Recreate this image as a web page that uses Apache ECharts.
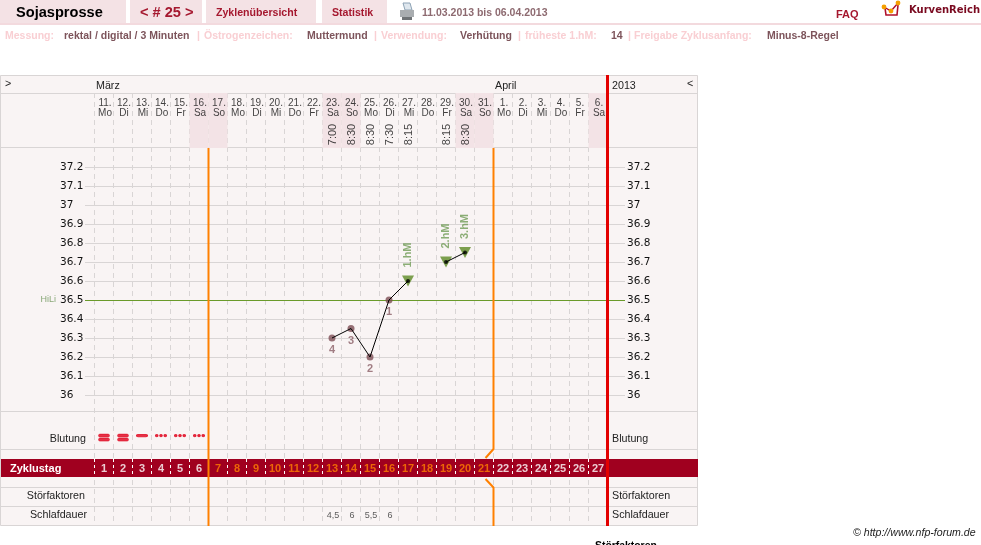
<!DOCTYPE html>
<html>
<head>
<meta charset="utf-8">
<title>Zykluskurve</title>
<style>html,body{margin:0;padding:0;background:#fff}#chart{width:981px;height:545px}</style>
<script src="https://cdn.jsdelivr.net/npm/echarts@6/dist/echarts.min.js"></script>
</head>
<body>
<div id="chart"></div>
<script>
// Calendar columns of the cycle, one entry per cycle day
const dayDates = ['11.','12.','13.','14.','15.','16.','17.','18.','19.','20.','21.','22.','23.','24.','25.','26.','27.','28.','29.','30.','31.','1.','2.','3.','4.','5.','6.'];
const weekdays = ['Mo','Di','Mi','Do','Fr','Sa','So','Mo','Di','Mi','Do','Fr','Sa','So','Mo','Di','Mi','Do','Fr','Sa','So','Mo','Di','Mi','Do','Fr','Sa'];
const cycleDays = [1,2,3,4,5,6,7,8,9,10,11,12,13,14,15,16,17,18,19,20,21,22,23,24,25,26,27];
const measureTimes = ['','','','','','','','','','','','','7:00','8:30','8:30','7:30','8:15','','8:15','8:30','','','','','','',''];

// Waking temperature per cycle day, null where nothing was measured
const temperatures = [null,null,null,null,null,null,null,null,null,null,null,null,36.3,36.35,36.2,36.5,36.6,null,36.7,36.75,null,null,null,null,null,null,null];
const lowRankLabels = ['','','','','','','','','','','','','4','3','2','1','','','','','','','','','','',''];
const highLabels = ['','','','','','','','','','','','','','','','','1.hM','','2.hM','3.hM','','','','','','',''];
const temperatureTicks = [36, 37.2, 0.1];
const coverLine = 36.5;

// Bleeding strength: 3 heavy, 2 normal, 1 spotting
const bleeding = [3,3,2,1,1,1,0,0,0,0,0,0,0,0,0,0,0,0,0,0,0,0,0,0,0,0,0];
// Sleep duration in hours, written with a decimal comma
const sleepHours = ['','','','','','','','','','','','','4,5','6','5,5','6','','','','','','','','','','',''];
// Fertile window: opens after cycle day 6, closes after cycle day 21
const fertileOpenDay = 6;
const fertileCloseDay = 21;

const SANS = '"Liberation Sans", Arial, sans-serif';
const GRID_LINE = '#d9d5d5';
const DARK_RED = '#a0001f';
const ORANGE = '#ff8000';
const PANEL = '#f9f4f4';
const WEEKEND = '#f3e3e6';
const TAB = '#f4e2e5';

const dayCenter = i => i + 0.5;
const isWeekend = i => weekdays[i] === 'Sa' || weekdays[i] === 'So';
const inFertileWindow = d => d > fertileOpenDay && d <= fertileCloseDay;

// Bleeding glyphs
const BAR = 'M1.5 0H9.5A1.5 1.5 0 0 1 9.5 3H1.5A1.5 1.5 0 0 1 1.5 0Z';
const DOUBLE_BAR = BAR + 'M1.5 4H9.5A1.5 1.5 0 0 1 9.5 7H1.5A1.5 1.5 0 0 1 1.5 4Z';
const DOTS = 'M0 1.5A1.25 1.25 0 1 1 2.5 1.5A1.25 1.25 0 1 1 0 1.5Z' +
             'M4.25 1.5A1.25 1.25 0 1 1 6.75 1.5A1.25 1.25 0 1 1 4.25 1.5Z' +
             'M8.5 1.5A1.25 1.25 0 1 1 11 1.5A1.25 1.25 0 1 1 8.5 1.5Z';

// Grids sharing one day scale; the temperature grid reaches past both ends
const dayAxis = (gridIndex, extra) => Object.assign({
  type: 'value', gridIndex, min: 0, max: 27, interval: 1,
  axisLine: {show: false}, axisTick: {show: false}, axisLabel: {show: false}, splitLine: {show: false}
}, extra);
const unitAxis = (gridIndex, extra) => Object.assign({
  type: 'value', gridIndex, min: 0, max: 1,
  axisLine: {show: false}, axisTick: {show: false}, axisLabel: {show: false}, splitLine: {show: false}
}, extra);
const temperatureAxis = (position, margin, split) => ({
  type: 'value', gridIndex: 2, position,
  min: temperatureTicks[0], max: temperatureTicks[1], interval: temperatureTicks[2],
  axisLine: {show: false}, axisTick: {show: false},
  axisLabel: {align: 'left', margin, color: '#111', fontFamily: '"DejaVu Sans", sans-serif', fontSize: 10.5},
  splitLine: {show: split, lineStyle: {color: GRID_LINE, width: 1}}
});

const grids = [
  {left: 94.5, top: 93, width: 513, height: 433},   // full-height column rules and phase lines
  {left: 94.5, top: 93, width: 513, height: 55},    // date header
  {left: 85, top: 167, width: 540, height: 228},    // temperature curve
  {left: 94.5, top: 411, width: 513, height: 38},   // bleeding
  {left: 94.5, top: 459, width: 513, height: 18},   // cycle day band
  {left: 94.5, top: 506, width: 513, height: 20}    // sleep
];

const xAxes = [
  dayAxis(0, {splitLine: {show: true, lineStyle: {color: '#d9d5d5', type: [5, 4], width: 1}}}),
  dayAxis(1),
  dayAxis(2, {min: -0.5, max: 27.92, interval: undefined}),
  dayAxis(3),
  dayAxis(4, {z: 3, splitLine: {show: true, lineStyle: {color: '#ffffff', type: [3, 3], width: 1}}}),
  dayAxis(5)
];

const yAxes = [
  {type: 'value', gridIndex: 0, min: 0, max: 433, inverse: true,
   axisLine: {show: false}, axisTick: {show: false}, axisLabel: {show: false}, splitLine: {show: false}},
  unitAxis(1),
  temperatureAxis('left', 25, true),
  temperatureAxis('right', 2, false),
  unitAxis(3),
  unitAxis(4),
  unitAxis(5)
];

// Text-only scatter on one of the row grids
function textRow(xIndex, yIndex, y, texts, labelFor) {
  return {
    type: 'scatter', xAxisIndex: xIndex, yAxisIndex: yIndex, symbolSize: 1, z: 6, silent: true,
    itemStyle: {color: 'transparent'},
    data: texts.map((t, i) => t === '' ? null : {value: [dayCenter(i), y], label: Object.assign({show: true, position: 'inside', formatter: t}, labelFor(t, i))}).filter(Boolean)
  };
}

const points = temperatures.map((t, i) => t === null ? [dayCenter(i), null] : [dayCenter(i), t]);
const lowPoints = temperatures.map((t, i) => ({t, i})).filter(p => p.t !== null && lowRankLabels[p.i] !== '');
const highPoints = temperatures.map((t, i) => ({t, i})).filter(p => p.t !== null && highLabels[p.i] !== '');

const openEdge = fertileOpenDay;
const closeEdge = fertileCloseDay;

const series = [
  // Weekend columns in the date header
  {type: 'bar', xAxisIndex: 1, yAxisIndex: 1, barWidth: 19, z: 1, silent: true, itemStyle: {color: WEEKEND},
   data: weekdays.map((w, i) => isWeekend(i) ? [dayCenter(i), 1] : null).filter(Boolean)},

  textRow(1, 1, 0.72, dayDates, (t, i) => ({
    formatter: t + '\n' + weekdays[i], fontFamily: SANS, fontSize: 10, lineHeight: 10, color: '#111', align: 'center', verticalAlign: 'middle', offset: [1, 0]
  })),
  textRow(1, 1, 0.245, measureTimes, () => ({
    rotate: 90, fontFamily: SANS, fontSize: 11, color: '#111', align: 'center', verticalAlign: 'middle', offset: [0, 1]
  })),

  // Start of infertile phases and cycle end
  {type: 'line', xAxisIndex: 0, yAxisIndex: 0, symbol: 'none', z: 4, silent: true, clip: false,
   lineStyle: {color: ORANGE, width: 2}, data: [[openEdge, 55], [openEdge, 433]]},
  {type: 'line', xAxisIndex: 0, yAxisIndex: 0, symbol: 'none', z: 4, silent: true, clip: false,
   lineStyle: {color: ORANGE, width: 2}, data: [[closeEdge, 55], [closeEdge, 356], [closeEdge - 0.42, 365]]},
  {type: 'line', xAxisIndex: 0, yAxisIndex: 0, symbol: 'none', z: 4, silent: true, clip: false,
   lineStyle: {color: ORANGE, width: 2}, data: [[closeEdge - 0.42, 386], [closeEdge, 394.5], [closeEdge, 433]]},
  {type: 'line', xAxisIndex: 0, yAxisIndex: 0, symbol: 'none', z: 5, silent: true, clip: false,
   lineStyle: {color: '#e30000', width: 3}, data: [[cycleDays.length, -18], [cycleDays.length, 433]]},

  // Cover line across the chart
  {type: 'line', xAxisIndex: 2, yAxisIndex: 2, data: [], symbol: 'none', silent: true,
   markLine: {silent: true, symbol: 'none', z: 2, animation: false,
     lineStyle: {color: '#6a9a2a', width: 1, type: 'solid'},
     label: {show: true, position: 'start', distance: 29, formatter: 'HiLi', color: '#8aa878', fontFamily: SANS, fontSize: 9},
     data: [{yAxis: coverLine}]}},

  // Higher readings: green triangles carrying the count
  {type: 'scatter', xAxisIndex: 2, yAxisIndex: 2, z: 6, symbol: 'triangle', symbolRotate: 180, symbolSize: [12, 11], silent: true,
   itemStyle: {color: '#5c8a24'},
   data: highPoints.map(p => ({value: [dayCenter(p.i), p.t],
     label: {show: true, formatter: highLabels[p.i], position: 'inside', rotate: 90, offset: [26, 0], align: 'center', verticalAlign: 'middle',
       color: '#6f9b55', fontFamily: SANS, fontWeight: 'bold', fontSize: 11}}))},

  // Lower readings: brown discs with their rank underneath
  {type: 'scatter', xAxisIndex: 2, yAxisIndex: 2, z: 7, symbol: 'circle', symbolSize: 7, silent: true,
   itemStyle: {color: '#7d4d55'},
   data: lowPoints.map(p => ({value: [dayCenter(p.i), p.t],
     label: {show: true, formatter: lowRankLabels[p.i], position: 'bottom', distance: 3,
       color: '#8b5f67', fontFamily: SANS, fontWeight: 'bold', fontSize: 11}}))},

  // Temperature curve, broken where a day has no reading
  {type: 'line', xAxisIndex: 2, yAxisIndex: 2, z: 8, symbol: 'none', connectNulls: false, silent: true,
   lineStyle: {color: '#000', width: 1}, data: points},
  {type: 'scatter', xAxisIndex: 2, yAxisIndex: 2, z: 9, symbol: 'circle', symbolSize: 4, silent: true,
   itemStyle: {color: '#000'}, data: highPoints.map(p => [dayCenter(p.i), p.t])},

  // Bleeding marks
  {type: 'scatter', xAxisIndex: 3, yAxisIndex: 4, z: 6, silent: true,
   itemStyle: {color: '#e0001a', borderColor: '#e0001a', borderWidth: 0.6},
   data: bleeding.map((b, i) => b === 0 ? null : {
     value: [dayCenter(i), 0.3],
     symbol: 'path://' + (b === 3 ? DOUBLE_BAR : b === 2 ? BAR : DOTS),
     symbolSize: b === 3 ? [11, 7] : [11, 3],
     symbolOffset: b === 3 ? [0, 0] : [0, -2]
   }).filter(Boolean)},

  // Cycle day numbers on the band
  textRow(4, 5, 0.44, cycleDays.map(String), (t, i) => ({
    fontFamily: SANS, fontWeight: 'bold', fontSize: 11, color: inFertileWindow(cycleDays[i]) ? ORANGE : '#ffffff', align: 'center', verticalAlign: 'middle'
  })),

  // Sleep duration
  textRow(5, 6, 0.52, sleepHours, () => ({
    fontFamily: SANS, fontSize: 9, color: '#333', align: 'center', verticalAlign: 'middle', offset: [1, 0]
  }))
];

// Page furniture around the chart
const txt = (text, x, y, font, fill, align, z) => ({
  type: 'text', x, y: y + 1, z: z || 10, silent: true,
  style: {text, font, fill, textAlign: align || 'left', textVerticalAlign: 'middle'}
});
const rect = (x, y, w, h, fill, z) => ({type: 'rect', silent: true, z: z === undefined ? -10 : z, shape: {x, y, width: w, height: h}, style: {fill}});
const hline = (y, x1, x2) => ({type: 'line', silent: true, z: -1, shape: {x1, y1: y, x2, y2: y}, style: {stroke: GRID_LINE, lineWidth: 1}});
const poly = (pts, stroke, lineWidth) => ({type: 'polyline', silent: true, z: 10, shape: {points: pts}, style: {stroke, lineWidth, fill: 'none'}});
const dot = (cx, cy, r, fill) => ({type: 'circle', silent: true, z: 11, shape: {cx, cy, r}, style: {fill}});

const subFont = 'bold 10.5px ' + SANS;
const tickFont = '10.7px ' + SANS;
const PINK = '#f9cfd3';
const BROWN = '#7d545b';

const furniture = [
  // Tabs and top rule
  rect(0, 0, 126, 23, TAB), rect(130, 0, 72, 23, TAB), rect(206, 0, 110, 23, TAB), rect(322, 0, 65, 23, TAB),
  rect(0, 23, 981, 2, '#f3dade'),
  txt('Sojasprosse', 16, 12, 'bold 14.6px ' + SANS, '#000'),
  txt('< # 25 >', 140, 12, 'bold 14.6px ' + SANS, '#a5182f'),
  txt('Zyklenübersicht', 216, 12, 'bold 10.6px ' + SANS, '#a5182f'),
  txt('Statistik', 332, 12, 'bold 10.6px ' + SANS, '#a5182f'),
  txt('11.03.2013 bis 06.04.2013', 422, 12, subFont, '#8d6a70'),
  txt('FAQ', 836, 14, 'bold 11px ' + SANS, '#a5182f'),
  txt('KurvenReich', 909, 9, 'bold 10px "DejaVu Sans", sans-serif', '#7a0a20'),

  // Printer icon
  {type: 'polygon', silent: true, z: 10, shape: {points: [[403, 3], [410, 3], [412, 10], [405, 10]]}, style: {fill: '#dfe7ee', stroke: '#8ea3b5', lineWidth: 1}},
  rect(400, 10, 14, 7, '#a9adb0', 10),
  rect(402, 17, 10, 3, '#6f7376', 10),

  // Logo
  poly([[885, 8], [886, 15], [897, 15], [898, 5]], '#b0102a', 1.6),
  poly([[884, 7], [891, 11], [898, 3]], '#b0102a', 1.4),
  dot(884, 7, 2.4, '#f5a000'), dot(891, 11, 2.4, '#f5a000'), dot(898, 3, 2.4, '#f5a000'),

  // Settings line
  txt('Messung:', 5, 35.5, subFont, PINK),
  txt('rektal / digital / 3 Minuten', 64, 35.5, subFont, BROWN),
  txt('|', 197, 35.5, subFont, PINK),
  txt('Östrogenzeichen:', 204, 35.5, subFont, PINK),
  txt('Muttermund', 307, 35.5, subFont, BROWN),
  txt('|', 374, 35.5, subFont, PINK),
  txt('Verwendung:', 381, 35.5, subFont, PINK),
  txt('Verhütung', 460, 35.5, subFont, BROWN),
  txt('|', 518, 35.5, subFont, PINK),
  txt('früheste 1.hM:', 525, 35.5, subFont, PINK),
  txt('14', 611, 35.5, subFont, BROWN),
  txt('|', 628, 35.5, subFont, PINK),
  txt('Freigabe Zyklusanfang:', 634, 35.5, subFont, PINK),
  txt('Minus-8-Regel', 767, 35.5, subFont, BROWN),

  // Panel
  rect(0.5, 75.5, 697, 450, PANEL),
  {type: 'rect', silent: true, z: -1, shape: {x: 0.5, y: 75.5, width: 697, height: 450}, style: {fill: 'none', stroke: GRID_LINE, lineWidth: 1}},
  hline(93.5, 0, 698), hline(147.5, 0, 698), hline(411.5, 0, 698), hline(449.5, 0, 698),
  hline(487.5, 0, 698), hline(506.5, 0, 698),
  rect(1, 459, 697, 18, DARK_RED, 1),

  // Panel captions
  txt('>', 5, 83, tickFont, '#222'),
  txt('März', 96, 85, tickFont, '#222'),
  txt('April', 495, 85, tickFont, '#222'),
  txt('2013', 612, 85, tickFont, '#222'),
  txt('<', 687, 83, tickFont, '#222'),
  txt('Blutung', 86, 438.5, tickFont, '#222', 'right'),
  txt('Blutung', 612, 438.5, tickFont, '#222'),
  txt('Zyklustag', 10, 467.5, 'bold 11px ' + SANS, '#fff'),
  txt('Störfaktoren', 85, 495.5, tickFont, '#222', 'right'),
  txt('Störfaktoren', 612, 495.5, tickFont, '#222'),
  txt('Schlafdauer', 87, 514.5, tickFont, '#222', 'right'),
  txt('Schlafdauer', 612, 514.5, tickFont, '#222'),

  // Footer
  txt('© http://www.nfp-forum.de', 853, 532, 'italic 10.6px ' + SANS, '#222'),
  txt('Störfaktoren', 595, 545.5, 'bold 10.4px ' + SANS, '#000')
];

const chart = echarts.init(document.getElementById('chart'), null, {renderer: 'canvas'});
chart.setOption({
  animation: false,
  backgroundColor: '#ffffff',
  grid: grids,
  xAxis: xAxes,
  yAxis: yAxes,
  graphic: {elements: furniture},
  series
});
</script>
</body>
</html>
